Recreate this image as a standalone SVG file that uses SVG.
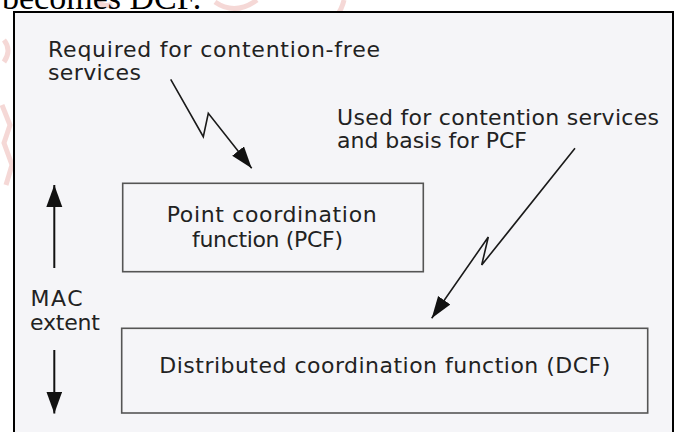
<svg xmlns="http://www.w3.org/2000/svg" width="675" height="432" viewBox="0 0 675 432">
<defs>
<style>
.t{font-family:"DejaVu Sans",Verdana,sans-serif;font-size:22px;fill:#222;}
.box{fill:none;stroke:#555;stroke-width:1.6;}
.ln{fill:none;stroke:#1a1a1a;stroke-width:1.6;stroke-linejoin:miter;}
.mac{fill:none;stroke:#111;stroke-width:2;}
.wm{fill:none;stroke:#e9a9a4;stroke-width:5;opacity:0.45;}
</style>
<marker id="ah" markerUnits="userSpaceOnUse" markerWidth="26" markerHeight="18" refX="22" refY="7.5" orient="auto">
<path d="M0,0 L22,7.5 L0,15 Z" fill="#111"/>
</marker>
<marker id="ahm" markerUnits="userSpaceOnUse" markerWidth="26" markerHeight="20" refX="22" refY="8" orient="auto">
<path d="M0,0 L22,8 L0,16 Z" fill="#111"/>
</marker>
</defs>
<rect x="0" y="0" width="675" height="432" fill="#ffffff"/>
<g id="watermark">
<path class="wm" d="M4,40 q8,10 0,22"/>
<path class="wm" d="M2,105 l8,20 l-6,18 l8,22 l-6,20"/>
<path class="wm" d="M215,2 q20,14 42,-2"/>
<path class="wm" d="M322,28 q18,-10 22,-28"/>
<path class="wm" d="M98,2 q6,6 14,2"/>
</g>
<text x="2" y="8.5" style="font-family:'Liberation Serif','Times New Roman',serif;font-size:34px;fill:#000;">becomes DCF.</text>
<g id="frame">
<rect x="14" y="12" width="659" height="432" fill="#f5f5f8" stroke="#000" stroke-width="2"/>
</g>
<g id="note-pcf">
<text class="t" x="48" y="57" textLength="332" lengthAdjust="spacing">Required for contention-free</text>
<text class="t" x="48" y="80" textLength="93" lengthAdjust="spacing">services</text>
</g>
<g id="note-dcf">
<text class="t" x="337" y="125" textLength="322" lengthAdjust="spacing">Used for contention services</text>
<text class="t" x="337" y="148" textLength="190" lengthAdjust="spacing">and basis for PCF</text>
</g>
<g id="pcf">
<rect class="box" x="122.7" y="183.3" width="300.6" height="88.4"/>
<text class="t" x="166.7" y="221.5" textLength="210" lengthAdjust="spacing">Point coordination</text>
<text class="t" x="192" y="246.5" textLength="151" lengthAdjust="spacing">function (PCF)</text>
</g>
<g id="dcf">
<rect class="box" x="121.7" y="328.3" width="526" height="84.7"/>
<text class="t" x="159.3" y="373.3" textLength="451" lengthAdjust="spacing">Distributed coordination function (DCF)</text>
</g>
<g id="mac-extent">
<text class="t" x="30.5" y="306" textLength="52" lengthAdjust="spacing">MAC</text>
<text class="t" x="30" y="330" textLength="70" lengthAdjust="spacing">extent</text>
</g>
<g id="connectors">
<polyline class="ln" points="170.7,79.3 203.3,136.7 208.3,113.3 251.7,168.3" marker-end="url(#ah)"/>
<polyline class="ln" points="575,148.3 481.7,265 488.3,237 431.7,318.3" marker-end="url(#ah)"/>
<line class="mac" x1="54.3" y1="268" x2="54.3" y2="185" marker-end="url(#ahm)"/>
<line class="mac" x1="54.3" y1="350" x2="54.3" y2="413.5" marker-end="url(#ahm)"/>
</g>
</svg>
